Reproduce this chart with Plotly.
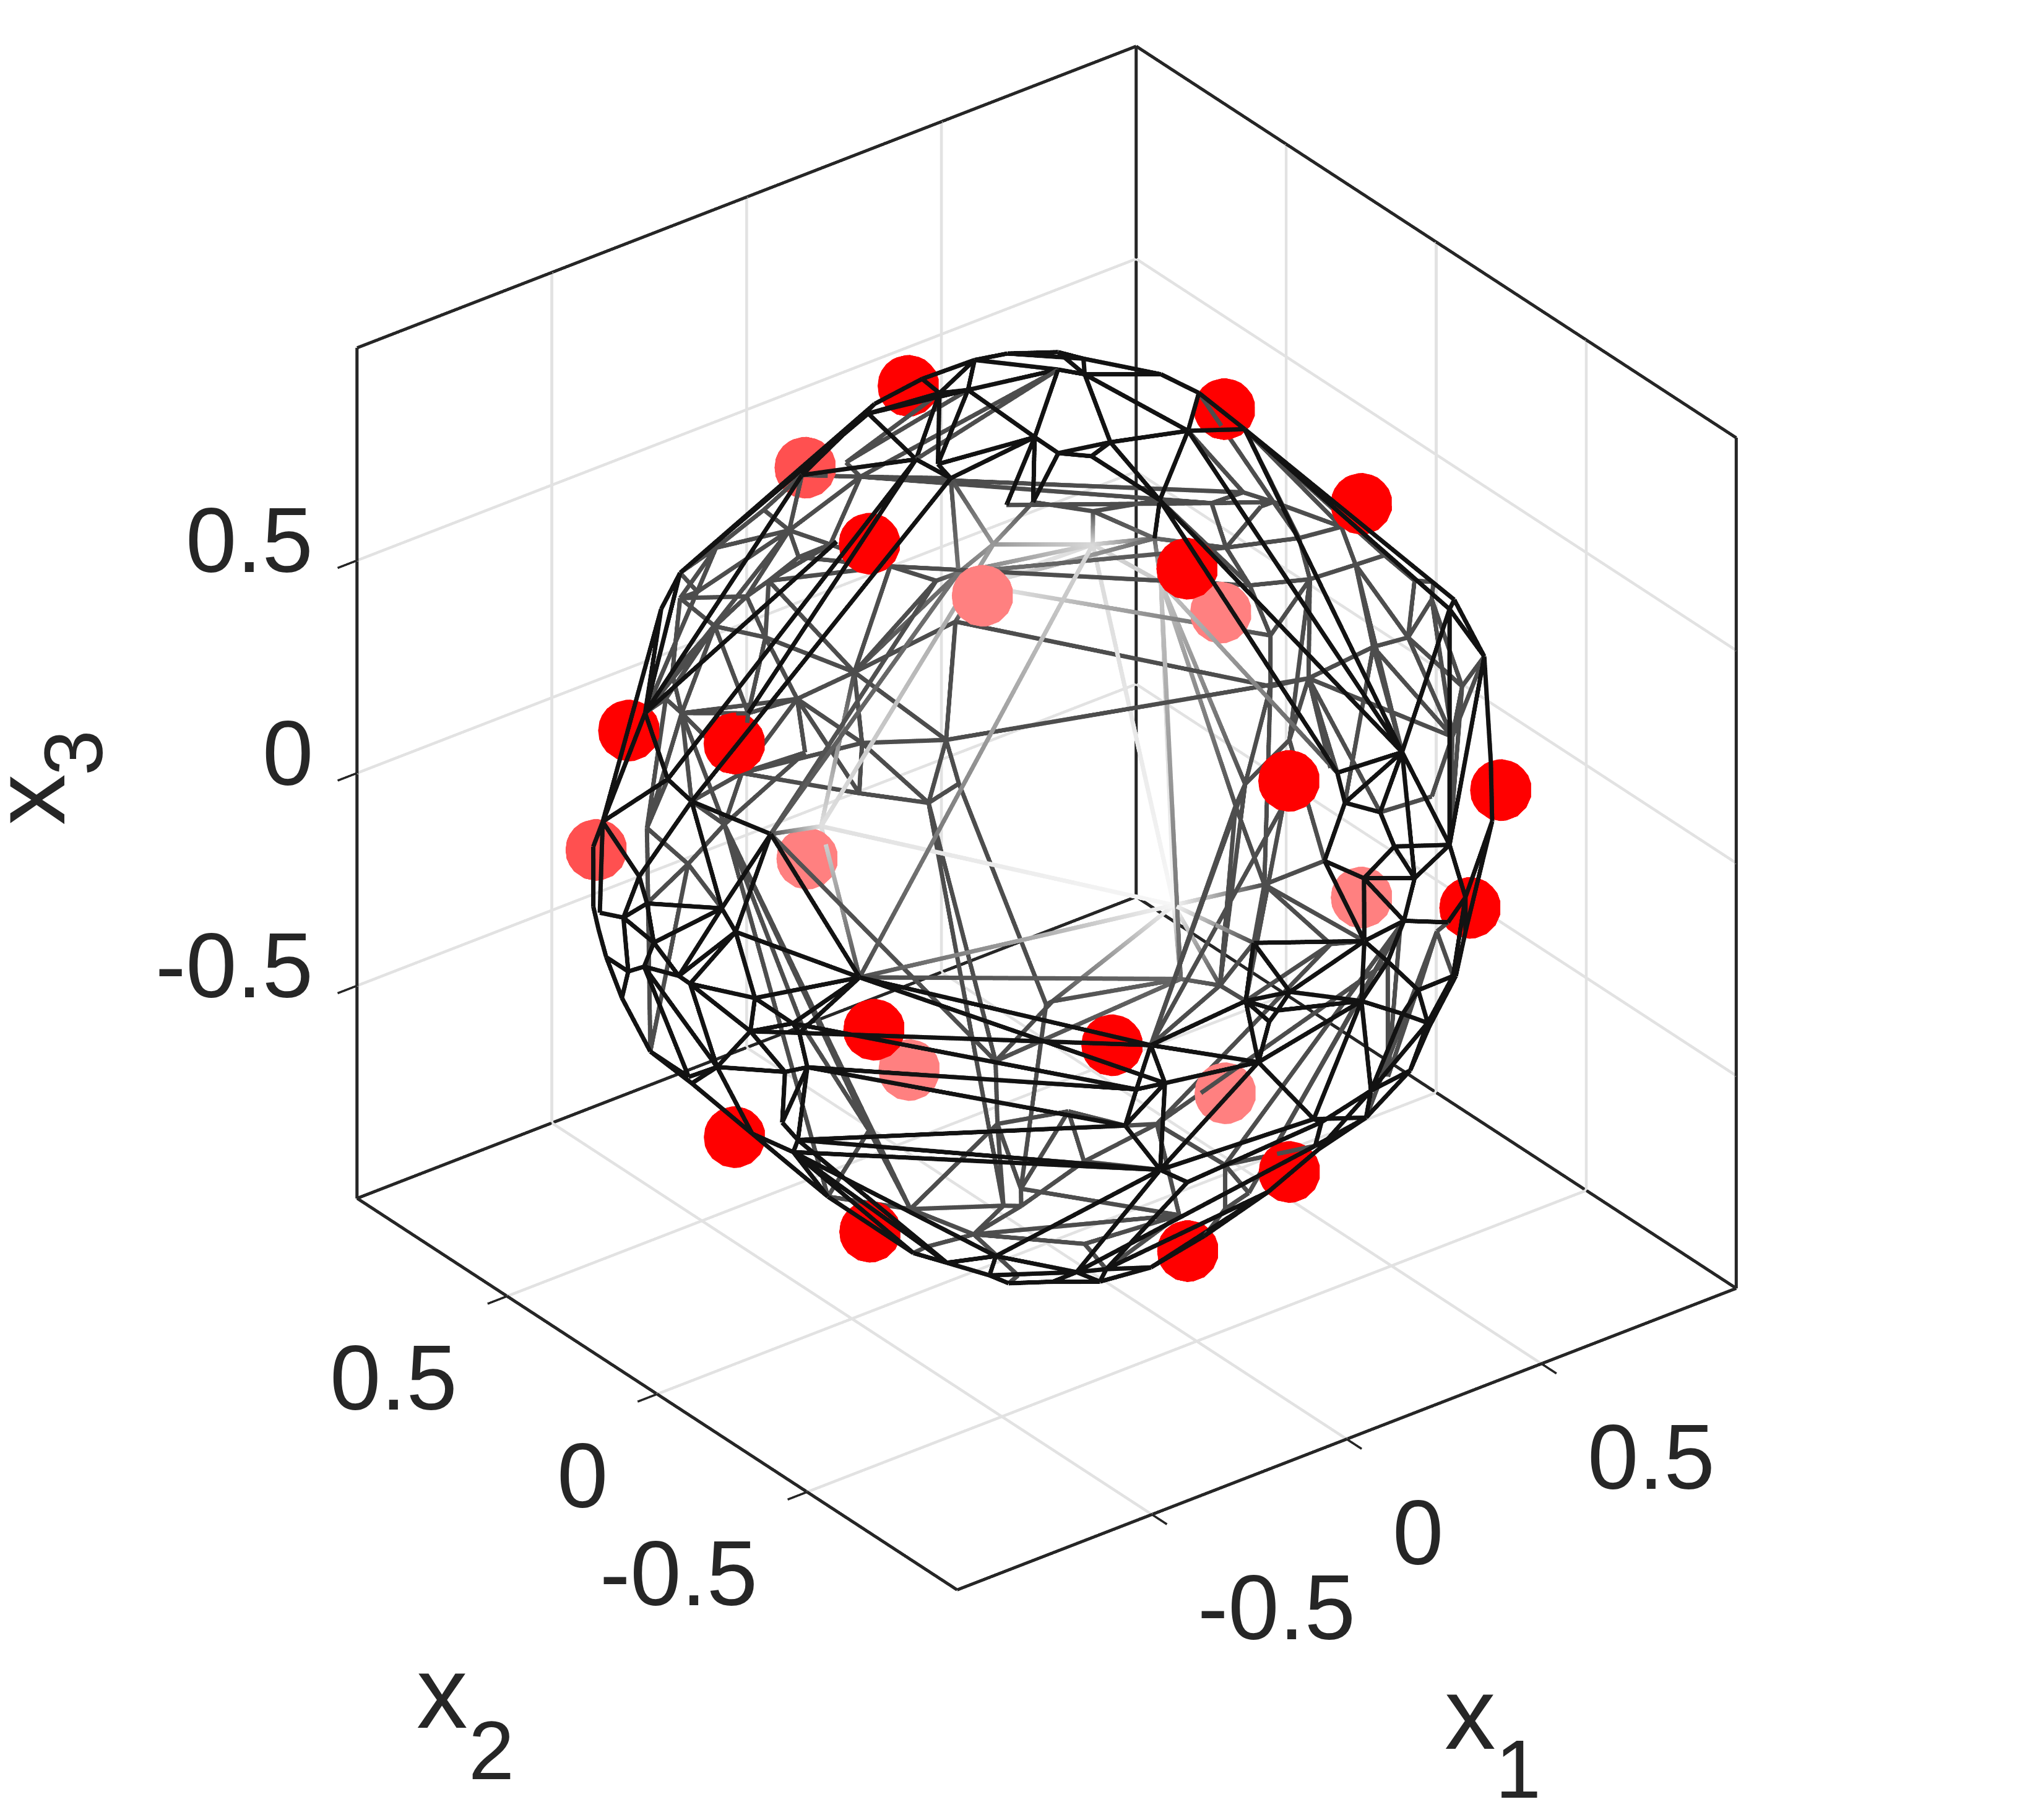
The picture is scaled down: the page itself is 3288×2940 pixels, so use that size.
import plotly.graph_objects as go

# wireframe vertices, same order in all four lists
mesh_ids = """a1 a2 a3 a4 a5 a6 a7 a8 a9 a10 a11 a12 a13 a14 a15 a16 a17 a18 a19 a20 a21 a22 a23 a30 a32
g1 g2 g3 g4 g5 g6 g7 g8 g9 g10 g11 g12 g13 g14 g15 g16 g17 g18 g19 g21 g22 g23 g24 g25 g26
g27 g28 g29 g30 g31 g32 b1 b2 b4 b5 b6 b7 b8 b9 b10 b11 b12 b13 b14 b15 b16 b17 b18 h1 h2 h3 h4 h5 h6 h7 h8 h9 h10 h11 h12 h13 h14 h15 h16 h17 h18 h19 h20 h21 h22 h23 h24 h25 h26 h27
h29 h30 c2 c4 c5 c6 c7 c8 c9 c10 c11 c12 c13 c14 c15 c16 c17 c18 c19 c20 c21 c22 c23 c24 c25 c26 c27 c29 c30 c31 c32 c33 c34 L1 L2 L3 L4 L5 L6 L7 k1 k2 k3 k4 k5 k6 k7 k8 k9 k10
k11 k12 k13 k14 k15 k16 d1 d2 d3 d4 d5 d6 d7 d8 d9 d10 d11 d12 d13 d14 d15 d16 d17 d18 d19 d20 d21 d22 d23 d24 d25 d26 d27 d28 d29 d30 d31 d32 d33 d34 d35 R1 R2 R3 R4 R5 R6 R7 R8 R9
R10 m1 m2 m3 m4 m5 m7 m8 m9 m10 m11 m12 m13 m14 m15 m16 m17 m18 m19 m20""".split()
mesh_x1 = [0.113, -0.034, -0.163, -0.2, -0.081, -0.041, 0.164, -0.07, -0.064, -0.26, -0.276, -0.271, -0.401, -0.612, -0.673, -0.819, -0.881, -0.89, -0.884, 0.208, 0.309, -0.192, -0.238, -0.787, -0.503,
           0.192, 0.05, 0.085, 0.157, -0.036, -0.154, -0.244, -0.04, 0.015, -0.124, 0.012, 0.211, 0.293, 0.426, 0.385, 0.419, 0.486, -0.226, 0.078, 0.203, 0.076, -0.084, 0.368, 0.172, 0.303,
           0.37, 0.461, -0.273, -0.251, 0.144, -0.188, 0.277, 0.193, 0.378, 0.393, 0.392, 0.239, 0.051, -0.013, 0.037, 0.779, 0.683, 0.806, 0.304, 0.113, 0.628, 0.111, 0.197, 0.638, 0.646, 0.729, 0.743, 0.783, 0.805, 0.833, 0.814, 0.871, 0.828, 0.907, 0.892, 0.879, 0.902, 0.9, 0.937, 0.933, 0.844, 0.891, 0.864, 0.917, 0.925, 0.898, 0.871, 0.789, 0.855, 0.855,
           0.877, 0.907, -0.935, -0.928, -0.945, -0.934, -0.896, -0.95, -0.927, -0.952, -0.944, -0.927, -0.826, -0.95, -0.923, -0.895, -0.923, -0.889, -0.892, -0.877, -0.92, -0.902, -0.866, -0.845, -0.833, -0.878, -0.887, -0.86, -0.58, -0.526, -0.504, -0.42, -0.351, -0.879, -0.878, -0.882, -0.885, -0.897, -0.86, -0.758, -0.158, -0.286, 0.071, 0.187, 0.1, 0.024, -0.044, -0.239, -0.174, -0.013,
           -0.386, -0.16, -0.164, -0.325, -0.265, 0.339, -0.392, -0.165, -0.361, -0.415, -0.426, -0.334, -0.196, -0.095, -0.125, -0.144, 0.088, 0.1, -0.168, 0.027, 0.119, 0.217, 0.263, 0.217, 0.392, 0.364, 0.435, 0.164, 0.263, 0.394, 0.315, 0.216, 0.001, 0.157, 0.027, 0.034, 0.173, -0.265, -0.319, -0.269, -0.112, -0.279, -0.203, -0.129, -0.042, 0.049, 0.29, 0.324, 0.408, 0.436,
           0.586, 0.62, 0.742, 0.559, 0.599, 0.766, 0.34, 0.174, 0.336, 0.236, 0.176, 0.281, 0.8, 0.746, 0.793, 0.572, 0.223, 0.353, -0.016, 0.816]
mesh_x2 = [0.387, 0.371, 0.362, 0.335, 0.252, 0.209, 0.175, -0.051, -0.122, 0.025, 0.077, -0.032, 0.295, 0.427, 0.411, 0.275, 0.119, 0.028, 0.332, 0.401, 0.363, -0.204, -0.175, -0.027, 0.047,
           0.87, 0.923, 0.937, 0.925, 0.896, 0.902, 0.905, 0.948, 0.946, 0.945, 0.953, 0.915, 0.902, 0.847, 0.868, 0.848, 0.809, 0.923, 0.933, 0.879, 0.904, 0.907, 0.813, 0.848, 0.787,
           0.773, 0.829, 0.915, 0.922, 0.856, 0.92, 0.237, 0.124, 0.11, 0.003, -0.151, -0.161, -0.146, -0.166, -0.329, -0.347, -0.456, -0.412, -0.79, -0.822, -0.665, -0.85, -0.856, 0.674, 0.685, 0.587, 0.584, 0.467, 0.39, 0.326, 0.459, 0.29, 0.361, 0.148, 0.281, 0.159, -0.055, -0.115, 0.012, 0.123, 0.419, 0.284, 0.376, -0.194, -0.151, 0.04, -0.158, 0.363, 0.301, 0.364,
           0.193, -0.106, 0.144, -0.122, 0.105, 0.198, 0.326, 0.076, -0.167, -0.01, 0.116, 0.191, -0.449, -0.045, -0.226, -0.316, -0.211, -0.33, -0.286, -0.341, -0.096, 0.022, -0.243, -0.268, -0.237, 0.181, 0.264, -0.197, -0.309, -0.35, -0.485, -0.355, -0.329, 0.37, 0.371, 0.349, 0.319, 0.018, -0.135, -0.255, 0.869, 0.824, 0.844, 0.413, 0.294, 0.117, 0.087, 0.144, 0.017, 0.068,
           0.831, 0.606, 0.379, -0.02, -0.249, 0.442, -0.856, -0.92, -0.863, -0.838, -0.815, -0.812, -0.918, -0.934, -0.932, -0.929, -0.935, -0.929, -0.908, -0.891, -0.903, -0.909, -0.885, -0.877, -0.834, -0.865, -0.831, -0.924, -0.897, -0.843, -0.861, -0.906, -0.889, -0.877, -0.881, -0.851, -0.84, -0.813, -0.514, -0.548, -0.493, -0.383, -0.441, -0.694, -0.793, -0.843, -0.835, -0.855, -0.834, -0.83,
           -0.724, 0.381, 0.238, 0.279, 0.2, 0.365, 0.074, -0.216, -0.158, 0.234, 0.104, -0.309, -0.14, 0.022, -0.271, -0.395, -0.305, 0.439, -0.147, 0.271]
mesh_x3 = [0.859, 0.874, 0.865, 0.868, 0.912, 0.925, 0.916, 0.944, 0.937, 0.913, 0.906, 0.91, 0.813, 0.597, 0.541, 0.411, 0.349, 0.342, 0.152, 0.834, 0.819, 0.905, 0.901, 0.538, 0.807,
           0.334, 0.234, 0.152, 0.162, 0.325, 0.275, 0.187, 0.099, 0.117, 0.06, -0.018, -0.153, 0.073, 0.036, 0.022, -0.077, 0.099, -0.098, -0.177, -0.3, -0.289, -0.282, -0.321, -0.393, -0.434,
           -0.406, 0.002, -0.044, 0.004, 0.391, 0.175, 0.873, 0.918, 0.859, 0.859, 0.845, 0.9, 0.933, 0.932, 0.886, 0.397, 0.459, 0.284, 0.411, 0.445, 0.216, 0.388, 0.338, 0.185, 0.099, 0.129, 0.022, 0.248, 0.301, 0.298, 0.136, 0.216, 0.273, 0.206, 0.116, 0.3, 0.264, 0.248, 0.087, 0.015, 0.055, -0.118, -0.05, 0.074, -0.067, 0.281, 0.319, -0.367, -0.258, -0.161,
           -0.282, -0.222, 0.128, 0.173, 0.086, 0.006, -0.055, 0.009, 0.138, -0.029, -0.068, -0.12, 0.125, -0.032, 0.008, -0.02, -0.077, -0.038, -0.149, -0.118, -0.215, -0.299, -0.297, -0.334, -0.381, -0.321, -0.23, 0.358, -0.675, -0.698, -0.628, -0.763, -0.818, 0.074, -0.068, -0.108, -0.16, -0.314, -0.375, -0.504, -0.359, -0.386, -0.433, -0.828, -0.89, -0.934, -0.936, -0.901, -0.925, -0.939,
           -0.269, -0.712, -0.851, -0.884, -0.867, -0.762, -0.001, -0.092, -0.098, -0.105, -0.197, -0.335, 0.062, 0.055, 0.021, 0.0, -0.031, 0.103, 0.184, 0.3, 0.232, 0.1, 0.173, 0.26, 0.182, 0.024, 0.042, 0.03, -0.085, -0.123, -0.197, -0.12, -0.299, -0.293, -0.319, -0.391, -0.379, -0.388, -0.718, -0.713, -0.79, -0.815, -0.815, -0.617, -0.499, -0.408, -0.312, -0.211, -0.132, -0.039,
           0.118, -0.6, -0.529, -0.705, -0.698, -0.411, -0.874, -0.896, -0.862, -0.881, -0.918, -0.839, -0.472, -0.571, -0.423, -0.629, -0.858, -0.758, -0.928, -0.385]
# grey level of the far side lines, everything else is 0.3
mesh_light = {"g17": 0.6, "h2": 0.85, "h4": 0.78, "g14": 0.45, "g28": 0.95, "k3": 0.88, "m1": 0.97, "h3": 0.4, "m3": 0.4, "c29": 0.33}

front_edges = """a1-a2 a2-a3 a3-a14 a4-a14 a1-a20 a20-a21 a1-a5 a2-a5 a5-a6 a1-a6 a5-a10 a6-a10 a4-a5 a4-a6 a6-a7 a1-a7 a7-a8 a6-a8 a4-a11 a5-a11 a11-a13 a10-a8 a11-a12 a10-a12 a12-a8
a8-a9 a8-a22 a13-a16 a14-a15 a15-a16 a11-a30 a12-a18 a11-a17 a16-a32 a16-a17 a17-a18 a17-a19 a14-a16 a13-a3 a9-a22 a23-a8 a16-a19 a16-L1 a15-a19
b1-b2 b2-a7 b2-b8 b2-b7 b1-b4 b4-b5 b5-b6 b6-b11 b6-b12 b11-b12 b11-b13 b12-b13 b5-b7 b7-b6 b7-b8 b8-b9 b8-a9 b9-a9 b8-b10 b9-b10 b7-b10 b10-b14 b7-b14 b6-b14
b13-b16 b16-R10 b12-d19 b12-b14 b10-b15 b15-b14 b15-b17 b17-b18 b14-b18 b14-b17 b14-d17 b14-d19 b13-d19 b1-a20 b2-b4 b2-a21 b1-a21 b10-h3
a19-L1 L1-L2 L2-L3 L3-L4 L4-c27 c27-c26 c26-L5 L5-L6 L6-L7 L7-c30 c30-c31 c31-c33 c33-c34 c34-R1 R1-R2 R2-d35 d35-R3 R3-R4 R4-R5 R5-d31 d31-R6 R6-R7 R7-R8 R8-R9 R9-R10
a18-c4 a18-c2 a19-c2 c2-c5 c5-c8 c2-c6 c5-c6 c6-c7 c6-c8 c7-a19 c5-c4 c8-c4 c8-c11 c8-c10 c11-c12 c12-c6 c12-c27 c11-c10 c4-c10 c9-c10 c9-c14 c4-c9 c9-c13 c9-c15 c10-c14 c14-c15 c14-c17 c15-c17 c15-c16 c15-c13 c13-c16 c13-c18 c17-c16 c17-c18 c17-c19 c17-c21 c16-c18 c18-c20 c19-c20 c19-c21 c19-c23 c20-c23 c20-c24 c23-c24 c24-c25 c21-c22 c14-c21 c11-c21 c11-c22 c21-L6
a18-c29 c29-c13 c4-c29 c9-c29 L5-c21 c25-L6 c25-L7 c25-c30 c25-c31 c24-c31 c25-c32 c32-c31 c32-c33 c32-d6 c33-d33 c32-d33 c18-d1 c20-d4 c20-d5 c16-d4 c24-d5 c24-d6 c25-d6 c13-d1 c13-d3 c26-c22 L4-c12 a19-c7
d1-d2 d1-d3 d1-d4 d1-d7 d3-d4 d3-d2 d3-d6 d4-d5 d5-d6 d5-d3 d6-d2 d6-d32 d6-d27 d32-d29 d2-d7 d2-d10 d2-d27 d2-d11 d7-d8 d7-d9 d8-d11 d9-d11 d8-d9 d8-d13 d13-d7 d13-d12 d8-d12 d9-d10 d10-d7 d11-d12 d11-d27 d11-d28 d11-d26 d11-d22 d26-d25 d23-d25 d26-d28 d25-d28 d12-d15 d12-d14 d14-d15 d14-b17 d15-d18 d15-d17 d18-d17 d18-d19 d17-d19 d15-d16 d16-d17 d16-d12 d16-d20 d20-d21 d21-d19 d16-d22 d22-d12 d22-d23 d23-d24 d24-d21 d24-d25 d23-d26 d12-d11 d27-d29 d29-d30 d29-d28 d30-d31 d27-d31 d6-d33 d32-d34 d33-d34 d34-d35 d33-R1 d33-R2 d34-R2 d33-d30 d34-R4 d35-R4 d28-d31 d28-R6 d28-R5 R10-d21 d21-R9 d24-R8 d25-R7 d25-R6 d18-b18 b18-b14""".split()
back_edges = """g1-g2 g1-g4 g1-a12 g1-a13 g2-g3 g2-g4 g2-g8 g2-g5 g5-a13 g2-a13 g3-g4 g4-g13 g13-g15 g15-g14 g14-g17 g17-a12 g17-a22 g14-a12 g13-g12 g3-g9 g9-g12 g9-g8 g8-g7 g8-g11 g9-g11 g10-g8 g7-g10 g10-g11 g10-g30 g11-g12 g11-g19 g12-g19 g12-g14 g12-g15 g12-g16 g12-g21 g12-g24 g19-g21 g19-g22 g19-g23 g18-g29 g18-g23 g18-g30 g21-g23 g22-g23 g21-g25 g21-g26 g23-g25 g24-g26 g24-g27 g24-g21 g25-g26 g26-g27 g24-g16 g16-g28 g6-g2 g6-g7 g6-a14 g5-g6 g7-g30 g29-a16 g10-g18 g18-g19
g31-a5 g31-a6 g31-g1 a7-a11 a7-g1 g32-g7 g32-g2 g32-a14 a16-g2 a16-g10 g29-g10 a16-g6 g18-k11 g18-a18 g18-k1 g29-k11 g23-k1 g23-a18 g22-k1 g19-g25 a30-g19 a30-g10 a30-g11 a30-g18 a30-g23
g1-h6 g1-h5 g3-g13 g9-g13 g4-g9 h1-h2 h1-h3 h1-a22 h1-b10 h3-b10 h3-h4 h2-h3 h2-h4 h5-h6 h6-h7 h7-h5 h7-h10 h10-h8 h5-h8 h8-h9 h8-h18 h9-h13 h9-h12 h12-h18 h12-h11 h11-h13 h11-h23 h23-h14 h14-h24 h24-h15 h14-h16 h15-h16 h11-h16 h11-h17 h16-h17 h17-h19 h17-h22 h16-h21 h16-h22 h12-h19 h12-h20 h18-h20 h19-h27 h20-h27 h7-h9 h9-h12 h13-h7 h21-b13 h21-h15 h21-h22 h22-b13 h22-h15 h19-h26 h26-h25 h27-h25 h25-m5 h5-a23 h8-g14 h18-g13 h19-g24 h20-g28 h27-g16 h18-b10 h17-b14 h19-h22 h23-b6 h13-b6
b5-h7 b7-h6 b6-h9 h4-b15 h4-h25 h19-b15 h12-h26 h19-h29 h17-b17 h11-b14 h19-b18 h22-h30 h30-b18 h22-d19 h21-d19
g17-h2 g14-h2 g28-h2 g28-h3 g17-k3 g14-c29 g15-c29 g12-k3 h4-m1 h2-m1 h4-m3 h4-m5 h3-h8 k3-c29 k3-c13 k3-m1 c13-m1 h2-c13
k1-k2 k1-a18 k1-g23 k2-c5 k2-c4 k2-c26 k11-c26 k11-a17 k1-k12 k12-k13 k1-k8 k13-k8 k4-k5 g26-k4 g27-k16 k16-k6 k5-k8 k5-k6 k5-k7 k6-k10 k7-k10 k7-k9 k9-k10 k8-k7 k5-m10 k6-m10 k9-k14 k9-k15 k10-m11 k4-m3 k8-L7 k8-k9
k2-k11 k1-L7 k1-k13 c29-k4 g26-k7 k4-m18 k9-m19 k14-c30 k15-c34 k13-L7 k16-m18
c13-m3 m1-m2 m2-d14 m2-d12 m2-m5 m2-d13 m1-m3 m1-m4 m1-d13 m3-m4 m4-d7 m4-d1 m4-d13 m5-d1 h25-d1 m10-d5 m10-m11 m7-d5 m7-m11 m7-m8 m7-m9 m9-d30 m9-m17 m9-m12 m8-k9 m8-k6 m7-d22 m9-m13 m12-m13 m12-d16 m7-m14 m14-d7 m15-d31 m16-m15 m16-m13 m17-m12 m17-R3 m14-m2 h26-d14 h27-m2
h25-m4 m5-m4 d1-m20 m20-d7 d22-m16 d20-m15 d24-m15 d23-m15 m14-d12 m19-d34 m19-m8 m18-m1 m18-m3 m8-d34 m11-d6""".split()

# red points: near side, half hidden, far side
near_x1 = [0.703, -0.355, 0.093, -0.708, 0.085, 0.749, 0.626, -0.716, -0.373, -0.702, 0.17, -0.543, -0.043, -0.619, 0.046, 0.541]
near_x2 = [-0.134, 0.132, -0.345, 0.124, -0.695, -0.539, -0.596, -0.352, -0.7, 0.131, -0.586, -0.114, -0.524, 0.591, 0.523, 0.112]
near_x3 = [0.554, 0.713, 0.715, 0.372, 0.38, 0.051, -0.156, -0.079, -0.077, -0.559, -0.62, -0.725, -0.759, 0.156, 0.762, 0.721]
mid_x1 = [-0.746, -0.171]
mid_x2 = [0.535, 0.585]
mid_x3 = [-0.054, 0.618]
far_x1 = [0.378, 0.714, -0.076, 0.691, -0.089, 0.345]
far_x2 = [0.707, 0.349, 0.702, -0.15, 0.345, -0.145]
far_x3 = [0.066, 0.072, -0.389, -0.36, -0.717, -0.7]

tick_vals = [-0.5, 0, 0.5]
tick_text = ["-0.5", "0", "0.5"]
lo, hi = -1.0, 1.0
tick_len = 0.05
ink = "#262626"
pos = {n: i for i, n in enumerate(mesh_ids)}


def edge_lines(edges, shaded):
    xs, ys, zs, cs = [], [], [], []
    for e in edges:
        for n in e.split("-"):
            i = pos[n]
            xs.append(mesh_x1[i])
            ys.append(mesh_x2[i])
            zs.append(mesh_x3[i])
            cs.append(mesh_light.get(n, 0.3) if shaded else 0.07)
        xs.append(None)
        ys.append(None)
        zs.append(None)
        cs.append(0)
    return xs, ys, zs, cs


def segments(pairs):
    xs, ys, zs = [], [], []
    for p, q in pairs:
        xs += [p[0], q[0], None]
        ys += [p[1], q[1], None]
        zs += [p[2], q[2], None]
    return xs, ys, zs


fig = go.Figure()
for mx, my, mz, col in [(near_x1, near_x2, near_x3, "#ff0000"), (mid_x1, mid_x2, mid_x3, "#ff5050"), (far_x1, far_x2, far_x3, "#ff8080")]:
    fig.add_trace(go.Scatter3d(x=mx, y=my, z=mz, mode="markers", marker=dict(size=57, color=col, line=dict(width=0), opacity=1), hoverinfo="skip", showlegend=False))

for edges, shaded in ((back_edges, True), (front_edges, False)):
    xs, ys, zs, cs = edge_lines(edges, shaded)
    fig.add_trace(go.Scatter3d(x=xs, y=ys, z=zs, mode="lines", line=dict(width=14, color=cs, colorscale=[[0, "#000000"], [1, "#ffffff"]], cmin=0, cmax=1), hoverinfo="skip", showlegend=False))

# grid, box and ticks are drawn as traces so they can be wider than the scene's 1px lines
grid = []
for v in tick_vals:
    grid += [((v, lo, lo), (v, hi, lo)), ((lo, v, lo), (hi, v, lo)), ((v, hi, lo), (v, hi, hi)), ((lo, hi, v), (hi, hi, v)), ((hi, v, lo), (hi, v, hi)), ((hi, lo, v), (hi, hi, v))]
gx, gy, gz = segments(grid)
fig.add_trace(go.Scatter3d(x=gx, y=gy, z=gz, mode="lines", line=dict(width=9, color="#e2e2e2"), hoverinfo="skip", showlegend=False))

box = [((lo, hi, lo), (lo, hi, hi)), ((hi, lo, lo), (hi, lo, hi)), ((hi, hi, lo), (hi, hi, hi)), ((lo, hi, hi), (hi, hi, hi)), ((hi, lo, hi), (hi, hi, hi)),
       ((lo, lo, lo), (hi, lo, lo)), ((lo, lo, lo), (lo, hi, lo)), ((lo, hi, lo), (hi, hi, lo)), ((hi, lo, lo), (hi, hi, lo))]
bx, by, bz = segments(box)
fig.add_trace(go.Scatter3d(x=bx, y=by, z=bz, mode="lines", line=dict(width=10, color=ink), hoverinfo="skip", showlegend=False))

marks = []
for v in tick_vals:
    marks += [((v, lo, lo), (v, lo - tick_len, lo)), ((lo, v, lo), (lo - tick_len, v, lo)), ((lo, hi, v), (lo - tick_len, hi, v))]
tx, ty, tz = segments(marks)
fig.add_trace(go.Scatter3d(x=tx, y=ty, z=tz, mode="lines", line=dict(width=7, color=ink), hoverinfo="skip", showlegend=False))

tick_font = dict(family="Liberation Sans", size=148, color=ink)
labels = []
for v, t in zip(tick_vals, tick_text):
    labels.append(dict(x=v, y=lo, z=lo, text=t, showarrow=False, xanchor="left", yanchor="middle", xshift=72, yshift=-150, font=tick_font))
    labels.append(dict(x=lo, y=v, z=lo, text=t, showarrow=False, xanchor="right", yanchor="middle", xshift=-78, yshift=-131, font=tick_font))
    labels.append(dict(x=lo, y=hi, z=v, text=t, showarrow=False, xanchor="right", yanchor="middle", xshift=-69, yshift=33, font=tick_font))

hidden = dict(visible=False)
k = 1.197
fig.update_layout(
    width=3288, height=2940, paper_bgcolor="white", margin=dict(l=0, r=0, t=0, b=0),
    scene=dict(
        domain=dict(x=[0.0216, 1], y=[0.0968, 1]),
        xaxis=dict(hidden, range=[lo - 0.1, hi + 0.05]), yaxis=dict(hidden, range=[lo - 0.1, hi + 0.05]), zaxis=dict(hidden, range=[lo - 0.05, hi + 0.05]),
        aspectmode="manual", aspectratio=dict(x=1.075 * k, y=1.075 * k, z=1.05 * k),
        camera=dict(eye=dict(x=-0.965, y=-1.253, z=0.919), up=dict(x=0, y=0, z=1), center=dict(x=0, y=0, z=0), projection=dict(type="orthographic")),
        annotations=labels,
    ),
)
title_font = dict(family="Liberation Sans", size=165, color=ink)
sub_font = dict(family="Liberation Sans", size=133, color=ink)
for px, py, t, f, ang in [(0.72, 0.0613, "x", title_font, 0), (0.7436, 0.0307, "1", sub_font, 0), (0.2149, 0.0728, "x", title_font, 0), (0.2392, 0.0407, "2", sub_font, 0), (0.0121, 0.5635, "x", title_font, -90), (0.0338, 0.5892, "3", sub_font, -90)]:
    fig.add_annotation(x=px, y=py, xref="paper", yref="paper", xanchor="center", yanchor="middle", text=t, textangle=ang, showarrow=False, font=f)
fig.write_html("out.html")
